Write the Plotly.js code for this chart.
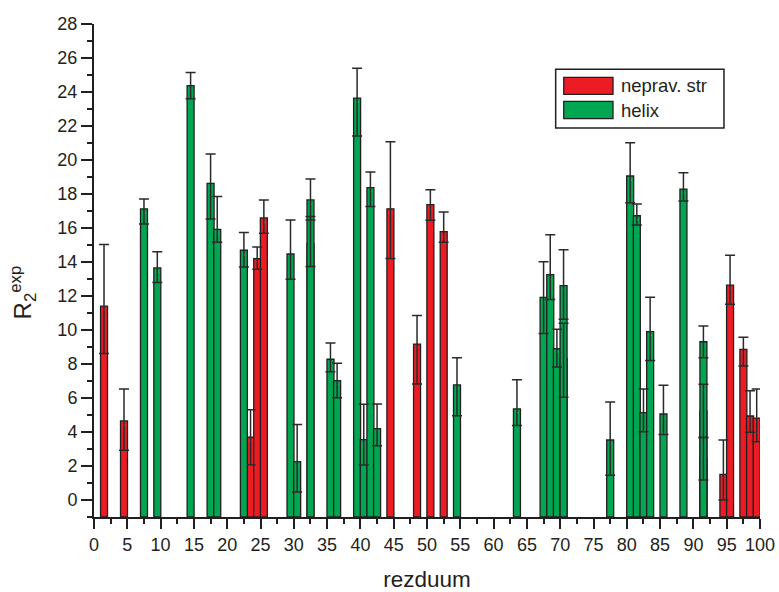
<!DOCTYPE html>
<html>
<head>
<meta charset="utf-8">
<script src="https://cdn.plot.ly/plotly-3.0.1.min.js"></script>
<style>
  html, body { margin: 0; padding: 0; background: #fff; }
  #chart { width: 779px; height: 592px; }
</style>
</head>
<body>
<div id="chart"></div>
<script>
// R2(exp) relaxation rates per residue, split by secondary structure class.
const seriesNames = ['neprav. str', 'helix'];
const seriesColors = ['#ED1C24', '#00A651'];

const coilResidue  = [2, 5, 24, 25, 26, 45, 49, 51, 53, 95, 96, 98, 99, 100];
const coilR2       = [11.41, 4.65, 3.69, 14.20, 16.59, 17.13, 9.17, 17.38, 15.79, 1.51, 12.64, 8.86, 4.94, 4.82];
const coilErrPlus  = [3.62, 1.88, 1.62, 0.68, 1.06, 3.95, 1.68, 0.87, 1.15, 2.02, 1.75, 0.71, 1.48, 1.71];
const coilErrMinus = [2.79, 1.73, 1.61, 0.63, 0.90, 2.93, 2.35, 0.93, 0.63, 1.51, 1.13, 0.98, 0.96, 1.39];

const helixResidue  = [8, 10, 15, 18, 19, 23, 30, 31, 33, 33, 36, 37, 40, 41, 42, 43, 55, 64,
                       68, 69, 70, 71, 71, 78, 81, 82, 83, 84, 86, 89, 92, 92, 92];
const helixR2       = [17.12, 13.65, 24.37, 18.63, 15.92, 14.69, 14.47, 2.26, 15.10, 17.65, 8.28, 7.02,
                       23.64, 3.55, 18.37, 4.20, 6.77, 5.36, 11.92, 13.26, 8.91, 8.33, 12.61, 3.53,
                       19.06, 16.72, 5.14, 9.90, 5.06, 18.29, 2.43, 5.24, 9.31];
const helixErrPlus  = [0.59, 0.96, 0.77, 1.72, 1.94, 1.04, 2.00, 2.18, 1.57, 1.23, 0.96, 1.02,
                       1.75, 2.08, 0.92, 1.45, 1.60, 1.72, 2.09, 2.35, 1.13, 2.06, 2.11, 2.23,
                       1.96, 0.69, 1.39, 2.02, 1.69, 0.96, 1.24, 1.57, 0.93];
const helixErrMinus = [0.88, 0.85, 0.77, 2.10, 0.76, 0.99, 1.49, 1.79, 1.37, 1.18, 0.73, 1.00,
                       2.23, 1.49, 1.11, 1.01, 1.81, 0.98, 2.12, 1.46, 1.09, 2.29, 1.98, 2.08,
                       1.57, 0.55, 1.12, 1.70, 1.20, 0.70, 1.25, 1.57, 0.94];

// bars rise from the floor of the value axis
const BASE = -1;
const INK = '#231F20';
const FONT = 'Liberation Sans, Arial, Helvetica, sans-serif';

function barTrace(name, color, xs, vals, plus, minus) {
  return {
    type: 'bar',
    name: name,
    x: xs,
    y: vals.map(v => v - BASE),
    base: BASE,
    offset: -1.02,
    width: 1.05,
    marker: { color: color, line: { color: INK, width: 1.3 } },
    error_y: {
      type: 'data', symmetric: false,
      array: plus, arrayminus: minus,
      color: '#2a2a2a', thickness: 1.5, width: 5
    },
    showlegend: false,
    hoverinfo: 'x+text',
    text: vals.map(String)
  };
}

const traces = [
  barTrace(seriesNames[0], seriesColors[0], coilResidue, coilR2, coilErrPlus, coilErrMinus),
  barTrace(seriesNames[1], seriesColors[1], helixResidue, helixR2, helixErrPlus, helixErrMinus)
];

// boxed legend with wide colour swatches
const legendBox = { x0: 0.6932, x1: 0.9459, y0: 0.7890, y1: 0.9081 };
const swatchX = [0.7053, 0.7793];
const swatchRows = [[0.8574, 0.8919], [0.8079, 0.8432]];
const shapes = [{
  type: 'rect', xref: 'paper', yref: 'paper',
  x0: legendBox.x0, x1: legendBox.x1, y0: legendBox.y0, y1: legendBox.y1,
  line: { color: INK, width: 1.5 }, fillcolor: '#fff', layer: 'above'
}];
const annotations = [];
seriesNames.forEach((nm, i) => {
  shapes.push({
    type: 'rect', xref: 'paper', yref: 'paper',
    x0: swatchX[0], x1: swatchX[1], y0: swatchRows[i][0], y1: swatchRows[i][1],
    line: { color: INK, width: 1.3 }, fillcolor: seriesColors[i], layer: 'above'
  });
  annotations.push({
    xref: 'paper', yref: 'paper', x: 0.7883, y: (swatchRows[i][0] + swatchRows[i][1]) / 2,
    xanchor: 'left', yanchor: 'middle', showarrow: false, text: nm,
    font: { family: FONT, size: 18.5, color: INK }
  });
});
annotations.push({
  xref: 'paper', yref: 'paper', x: -0.107, y: 0.455,
  xanchor: 'center', yanchor: 'middle', showarrow: false, textangle: -90,
  text: 'R<sub>2</sub><sup>exp</sup>',
  font: { family: FONT, size: 24, color: INK }
});

const layout = {
  width: 779, height: 592,
  margin: { l: 94, r: 19, t: 24, b: 75 },
  paper_bgcolor: '#fff', plot_bgcolor: '#fff',
  barmode: 'overlay',
  font: { family: FONT, color: INK },
  xaxis: {
    range: [0, 100], tickmode: 'linear', tick0: 0, dtick: 5,
    ticks: 'outside', ticklen: 10, tickwidth: 2, tickcolor: INK,
    showline: true, linewidth: 2, linecolor: INK,
    showgrid: false, zeroline: false,
    tickfont: { family: FONT, size: 18, color: INK },
    minor: { tick0: 0, dtick: 2.5, ticks: 'outside', ticklen: 5, tickwidth: 2, tickcolor: INK, showgrid: false },
    title: { text: 'rezduum', font: { family: FONT, size: 22.5, color: INK }, standoff: 22 }
  },
  yaxis: {
    range: [-1, 28], tickmode: 'linear', tick0: 0, dtick: 2,
    ticks: 'outside', ticklen: 11, tickwidth: 2, tickcolor: INK,
    showline: true, linewidth: 2, linecolor: INK,
    showgrid: false, zeroline: false,
    tickfont: { family: FONT, size: 18, color: INK },
    minor: { tick0: 0, dtick: 1, ticks: 'outside', ticklen: 5.5, tickwidth: 2, tickcolor: INK, showgrid: false }
  },
  shapes: shapes,
  annotations: annotations
};

Plotly.newPlot('chart', traces, layout, { displayModeBar: false, staticPlot: true });
</script>
</body>
</html>
